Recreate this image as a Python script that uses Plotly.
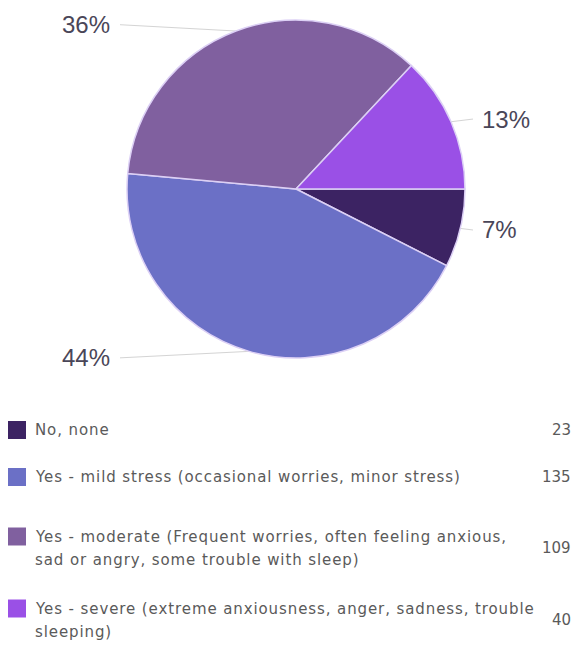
import math
import plotly.graph_objects as go

# Survey responses (each legend label split into its display lines)
categories = [
    ["No, none"],
    ["Yes - mild stress (occasional worries, minor stress)"],
    ["Yes - moderate (Frequent worries, often feeling anxious,", "sad or angry, some trouble with sleep)"],
    ["Yes - severe (extreme anxiousness, anger, sadness, trouble", "sleeping)"],
]
counts = [23, 135, 109, 40]
colors = ["#3c2363", "#6b70c6", "#80609f", "#9a50e6"]

W, H = 580, 661
cx, cy, R = 296, 189, 169  # pie centre and radius in pixels


def px(x):
    return x / W


def py(y):
    return 1 - y / H


def spaced(text, ls=0.9):
    return f'<span style="letter-spacing:{ls}px">{text}</span>'


fig = go.Figure(
    go.Pie(
        labels=[" ".join(c) for c in categories],
        values=counts,
        sort=False,
        direction="clockwise",
        rotation=90,
        textinfo="none",
        hoverinfo="label+value+percent",
        marker=dict(colors=colors, line=dict(color="#dcd0f5", width=1.5)),
        domain=dict(x=[px(cx - R), px(cx + R)], y=[py(cy + R), py(cy - R)]),
    )
)

total = sum(counts)
annotations = []
shapes = []
label_font = dict(family="Liberation Sans, Arial, sans-serif", size=24, color="#4a4658")

# Outside percentage labels with leader lines, placed at each slice's mid-angle
start = 0.0
for v in counts:
    sweep = v / total * 360
    mid = math.radians(start + sweep / 2)
    start += sweep
    ex, ey = cx + R * math.cos(mid), cy + R * math.sin(mid)
    ly = cy + 1.04 * R * math.sin(mid)
    pct = f"{round(v / total * 100)}%"
    if math.cos(mid) >= 0:
        lx, lx_line, anchor = cx + R + 15, cx + R + 8, "left"
    else:
        lx, lx_line, anchor = cx - R - 15, cx - R - 7, "right"
    shapes.append(dict(type="line", xref="paper", yref="paper",
                       x0=px(lx_line), y0=py(ly), x1=px(ex), y1=py(ey),
                       line=dict(color="#d4d4d4", width=1), layer="below"))
    annotations.append(dict(x=px(lx), y=py(ly), xref="paper", yref="paper",
                            text=pct, showarrow=False, xanchor=anchor, yanchor="middle",
                            font=label_font))

# Legend rows with counts on the right
legend_font = dict(family="DejaVu Sans, sans-serif", size=15, color="#5a5a5a")
value_font = dict(family="DejaVu Sans, sans-serif", size=15, color="#5a5a5a")
row_y = [430, 477, 548, 620]
line_gap = 23
for lines, v, c, y in zip(categories, counts, colors, row_y):
    n = len(lines)
    first_y = y - (n - 1) * line_gap / 2
    shapes.append(dict(type="rect", xref="paper", yref="paper",
                       x0=px(8), x1=px(26), y0=py(first_y - 9), y1=py(first_y + 9),
                       fillcolor=c, line=dict(width=0)))
    for i, text in enumerate(lines):
        annotations.append(dict(x=px(33), y=py(first_y + i * line_gap), xref="paper", yref="paper",
                                text=spaced(text), showarrow=False, xanchor="left", yanchor="middle",
                                align="left", font=legend_font))
    annotations.append(dict(x=px(573), y=py(y), xref="paper", yref="paper",
                            text=str(v), showarrow=False, xanchor="right", yanchor="middle",
                            font=value_font))

fig.update_layout(
    width=W, height=H,
    margin=dict(l=0, r=0, t=0, b=0),
    paper_bgcolor="white",
    plot_bgcolor="white",
    showlegend=False,
    shapes=shapes,
    annotations=annotations,
)

fig.write_html("out.html")
